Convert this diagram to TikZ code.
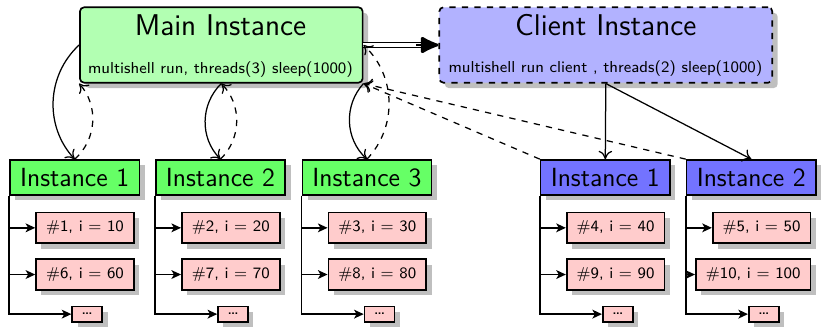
\documentclass[tikz,border=0pt]{standalone}
\usepackage{fontspec}
\usetikzlibrary{arrows.meta,shadows,calc}
\newdimen\pxu \pxu=0.48pt
\begin{document}
\begin{tikzpicture}[x=0.48pt,y=-0.48pt,
  boxshadow/.style={drop shadow={shadow xshift=2.6pt,shadow yshift=-2.6pt}},
  bigbox/.style={draw, thick, rounded corners=2pt, inner sep=0pt,
    minimum height=75.4*\pxu, boxshadow},
  mainbox/.style={bigbox, fill=green!30, minimum width=282.7*\pxu},
  clientbox/.style={bigbox, fill=blue!30, dashed, minimum width=333*\pxu},
  titletext/.style={anchor=base, font=\sffamily\fontsize{14.4}{17}\selectfont},
  cmdtext/.style={anchor=base, font=\sffamily\fontsize{7.6}{9}\selectfont},
  instbox/.style={draw, thick, inner sep=0pt, minimum width=129.3*\pxu,
    minimum height=35*\pxu, boxshadow, font=\sffamily\fontsize{12.6}{15}\selectfont},
  ginst/.style={instbox, fill=green!60},
  binst/.style={instbox, fill=blue!55},
  itembox/.style={draw, thick, fill=red!20, anchor=east, inner xsep=4.8pt, inner ysep=0pt,
    minimum height=30.6*\pxu, boxshadow, font=\sffamily\fontsize{7.6}{9}\selectfont},
  dotsbox/.style={draw, thick, fill=red!20, inner sep=0pt, minimum width=30*\pxu,
    minimum height=15.3*\pxu, boxshadow, font=\sffamily\fontsize{9}{9}\selectfont},
  feed/.style={thick, -{Stealth[length=4.6pt,width=4.2pt,inset=1.2pt]}},
  link/.style={semithick, -{To[length=4pt,width=6.5pt]}},
  back/.style={semithick, dashed, -{To[length=4pt,width=6.5pt]}}
]
\useasboundingbox (0,0) rectangle (823,327);

% top-level instances
\node[mainbox] (main) at (221.3,45) {};
\node[titletext] (maintitle) at (220.5,35.7) {Main Instance};
\node[cmdtext] (maincmd) at (220.5,73.3) {multishell run, threads(3) sleep(1000)};

\node[clientbox] (client) at (605.8,45) {};
\node[titletext] (clienttitle) at (605.8,35.7) {Client Instance};
\node[cmdtext] (clientcmd) at (605.5,72.5) {multishell run client , threads(2) sleep(1000)};

% worker instances
\node[ginst] (g1) at (74.7,177.5) {Instance 1};
\node[ginst] (g2) at (220.5,177.5) {Instance 2};
\node[ginst] (g3) at (367,177.5) {Instance 3};
\node[binst] (b1) at (605.3,177.5) {Instance 1};
\node[binst] (b2) at (751.3,177.5) {Instance 2};

% tasks of each worker
\foreach \w/\ta/\tb in {g1/{\#1, i = 10}/{\#6, i = 60},
                        g2/{\#2, i = 20}/{\#7, i = 70},
                        g3/{\#3, i = 30}/{\#8, i = 80},
                        b1/{\#4, i = 40}/{\#9, i = 90},
                        b2/{\#5, i = 50}/{\#10, i = 100}}{
  \node[itembox] (\w-a) at ($(\w.south west)+(125.5,32)$) {\ta};
  \node[itembox] (\w-b) at ($(\w.south west)+(125.5,78.7)$) {\tb};
  \node[dotsbox] (\w-c) at ($(\w.south west)+(78,118.3)$) {\ldots};
  \draw[feed] (\w.south west) |- (\w-a.west);
  \draw[feed] (\w.south west) |- (\w-b.west);
  \draw[feed] (\w.south west) |- (\w-c.west);
}

% main instance hands work to the client: double shaft plus a heavy head
\coordinate (headstart) at ($(client.west)+(-22,0)$);
\draw[double, double distance=1.5pt, semithick, shorten >=8pt] (main.east) -- (client.west);
\draw[line width=1.3pt, -{Latex[length=10pt,width=9pt,round]}] (headstart) -- (client.west);

% main instance and its local workers
\draw[link] (main.west) to[bend right=45] (g1.north);
\draw[back] (g1.north) to[bend right=45] (main.south west);
\draw[link] (main.south) to[bend right=45] (g2.north);
\draw[back] (g2.north) to[bend right=45] (main.south);
\draw[link] (main.south east) to[bend right=45] (g3.north);
\draw[back] (g3.north) to[bend right=45] (main.east);

% client and its workers
\draw[link] (client.south) -- (b1.north);
\draw[link] (client.south) -- (b2.north);
\draw[back] (b1.north west) -- (main.south east);
\draw[back] (b2.north west) -- (main.south east);
\end{tikzpicture}
\end{document}
